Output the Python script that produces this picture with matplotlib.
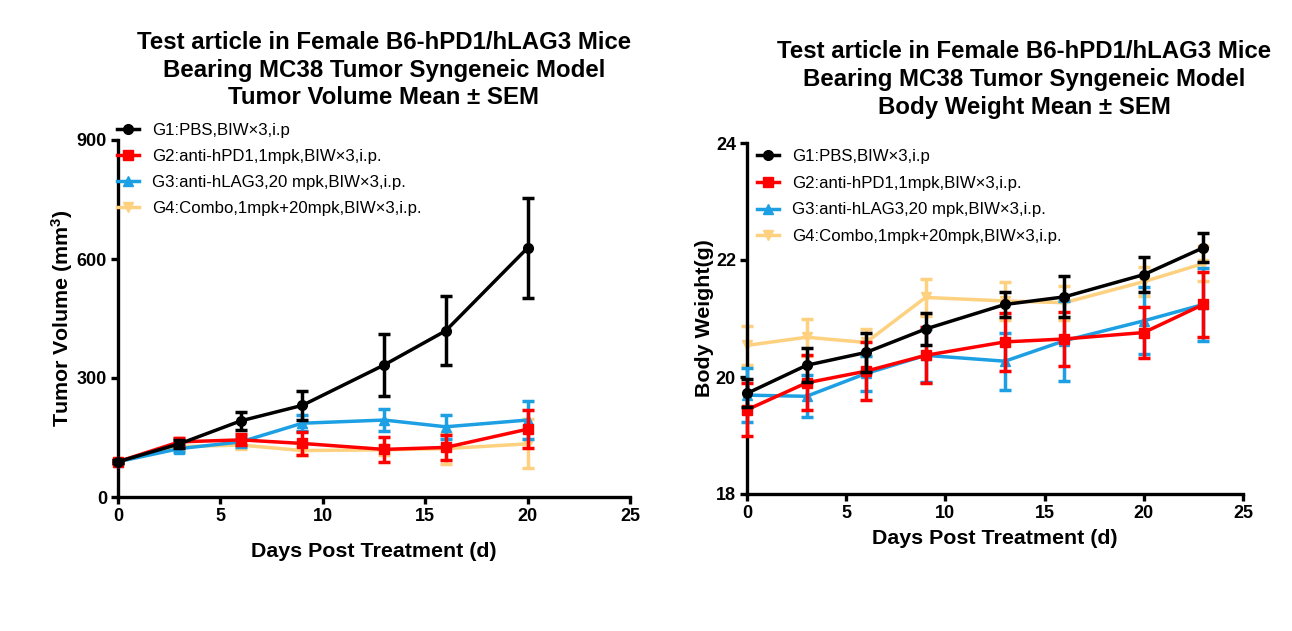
import matplotlib
matplotlib.use("Agg")
import matplotlib.pyplot as plt
from matplotlib.lines import Line2D

plt.rcParams['font.family'] = ['Liberation Sans', 'DejaVu Sans']
plt.rcParams['mathtext.fontset'] = 'custom'
plt.rcParams['mathtext.bf'] = 'Liberation Sans:bold'

GROUPS = ['G1:PBS,BIW\u00d73,i.p',
          'G2:anti-hPD1,1mpk,BIW\u00d73,i.p.',
          'G3:anti-hLAG3,20 mpk,BIW\u00d73,i.p.',
          'G4:Combo,1mpk+20mpk,BIW\u00d73,i.p.']
COLORS = ['#000000', '#ff0000', '#1c9fe3', '#fdd17f']
MARKERS = ['o', 's', '^', 'v']
ZORDER = [5, 4, 3, 2]

# tumor volume
tv_days = [0, 3, 6, 9, 13, 16, 20]
tv_mean = [
    [89, 134, 192, 231, 333, 419, 628],
    [89, 139, 144, 135, 120, 125, 171],
    [89, 122, 139, 186, 194, 177, 194],
    [89, 127, 131, 117, 119, 122, 134],
]
tv_sem = [
    [4, 10, 22, 37, 78, 87, 127],
    [4, 10, 14, 28, 32, 31, 48],
    [4, 8, 12, 20, 28, 30, 47],
    [4, 8, 10, 10, 12, 40, 62],
]

# body weight
bw_days = [0, 3, 6, 9, 13, 16, 20, 23]
bw_mean = [
    [19.72, 20.20, 20.42, 20.82, 21.24, 21.37, 21.75, 22.21],
    [19.44, 19.90, 20.10, 20.37, 20.60, 20.65, 20.76, 21.24],
    [19.69, 19.67, 20.06, 20.37, 20.27, 20.62, 20.96, 21.24],
    [20.54, 20.68, 20.59, 21.36, 21.30, 21.27, 21.63, 21.94],
]
bw_sem = [
    [0.24, 0.29, 0.34, 0.28, 0.21, 0.35, 0.30, 0.25],
    [0.45, 0.47, 0.49, 0.48, 0.50, 0.46, 0.44, 0.55],
    [0.46, 0.36, 0.30, 0.45, 0.49, 0.68, 0.57, 0.62],
    [0.34, 0.32, 0.23, 0.32, 0.32, 0.29, 0.25, 0.30],
]

W, H = 1292, 631
fig = plt.figure(figsize=(W / 100, H / 100), dpi=100)


def px_axes(x0, y0, x1, y1):
    return fig.add_axes([x0 / W, 1 - y1 / H, (x1 - x0) / W, (y1 - y0) / H])


def style(ax):
    for s in ['top', 'right']:
        ax.spines[s].set_visible(False)
    for s in ['left', 'bottom']:
        ax.spines[s].set_linewidth(2.4)
    ax.tick_params(width=2.4, length=5, labelsize=13, direction='out', pad=3)
    for lab in ax.get_xticklabels() + ax.get_yticklabels():
        lab.set_fontweight('bold')


def draw(ax, days, means, sems):
    for i in range(4):
        ax.errorbar(days, means[i], yerr=sems[i], color=COLORS[i], marker=MARKERS[i],
                    markersize=7, linewidth=2.5, elinewidth=2.5, capsize=4.5, capthick=2.5,
                    zorder=ZORDER[i], clip_on=False)


def legend(ax, anchor, spacing):
    handles = [Line2D([], [], color=COLORS[i], marker=MARKERS[i], markersize=7, linewidth=2.5)
               for i in range(4)]
    ax.legend(handles, GROUPS, loc='upper left', bbox_to_anchor=anchor, frameon=False,
              fontsize=12.1, handlelength=1.3, labelspacing=spacing, borderaxespad=0,
              borderpad=0, handletextpad=0.8)


ax1 = px_axes(118, 140, 630, 497)
draw(ax1, tv_days, tv_mean, tv_sem)
ax1.set_xlim(0, 25)
ax1.set_ylim(0, 900)
ax1.set_xticks([0, 5, 10, 15, 20, 25])
ax1.set_yticks([0, 300, 600, 900])
style(ax1)
ax1.set_xlabel('Days Post Treatment (d)', fontsize=15.4, fontweight='bold', labelpad=12)
ax1.set_ylabel(r'Tumor Volume (mm$\mathbf{^3}$)', fontsize=15.4, fontweight='bold', labelpad=1)
legend(ax1, (-0.002, 1.049), 0.67)
fig.text(384 / W, 1 - 70 / H, 'Test article in Female B6-hPD1/hLAG3 Mice\nBearing MC38 Tumor Syngeneic Model\nTumor Volume Mean \u00b1 SEM',
         ha='center', va='center', fontsize=17.3, fontweight='bold', linespacing=1.25)

ax2 = px_axes(747, 143, 1243, 494)
draw(ax2, bw_days, bw_mean, bw_sem)
ax2.set_xlim(0, 25)
ax2.set_ylim(18, 24)
ax2.set_xticks([0, 5, 10, 15, 20, 25])
ax2.set_yticks([18, 20, 22, 24])
style(ax2)
ax2.set_xlabel('Days Post Treatment (d)', fontsize=15.4, fontweight='bold', labelpad=5)
ax2.set_ylabel('Body Weight(g)', fontsize=15.4, fontweight='bold', labelpad=1)
legend(ax2, (0.02, 0.983), 0.70)
fig.text(1024 / W, 1 - 79.5 / H, 'Test article in Female B6-hPD1/hLAG3 Mice\nBearing MC38 Tumor Syngeneic Model\nBody Weight Mean \u00b1 SEM',
         ha='center', va='center', fontsize=17.3, fontweight='bold', linespacing=1.27)

fig.savefig('out.png', dpi=100)
